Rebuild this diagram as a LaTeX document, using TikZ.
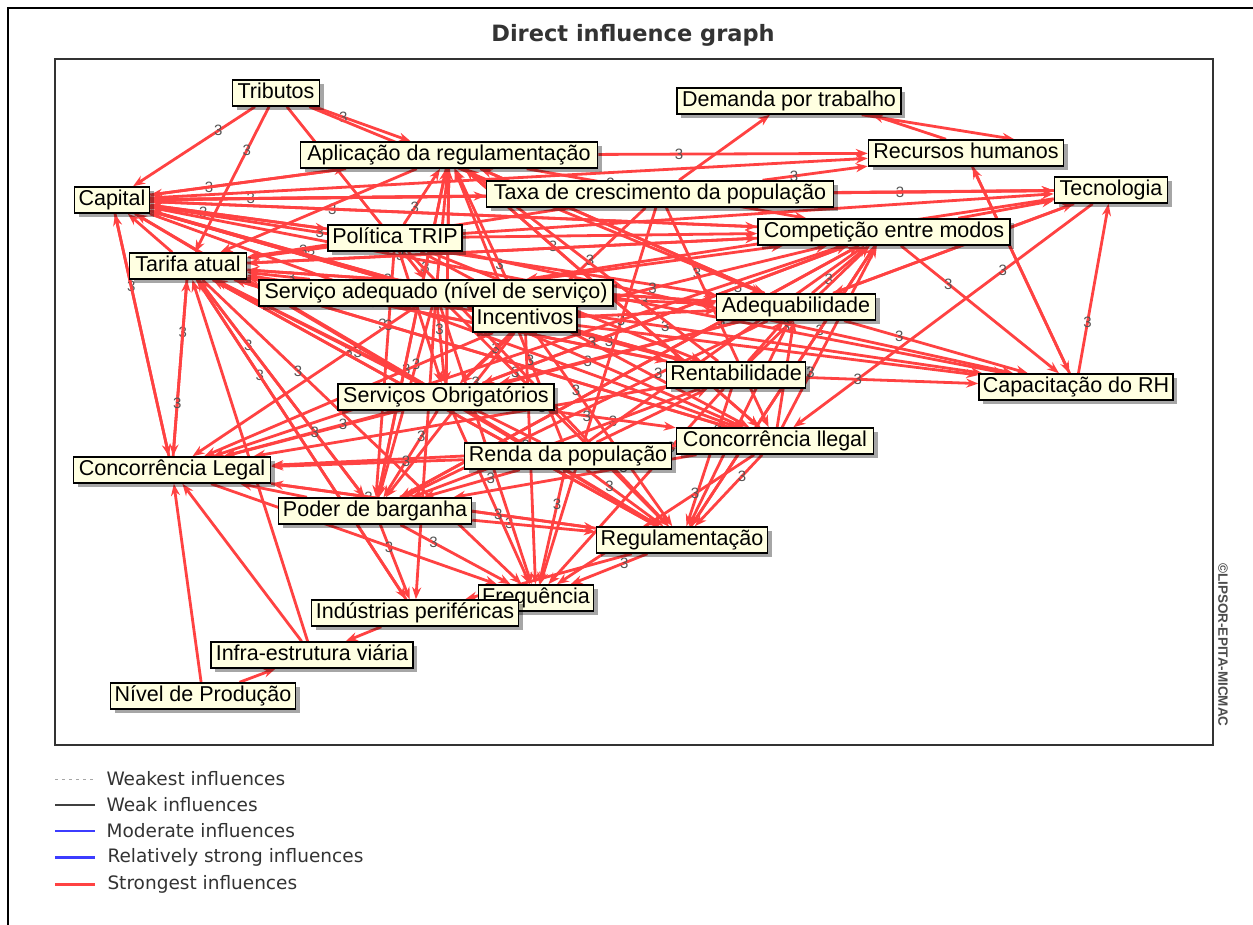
\documentclass[tikz,border=0pt]{standalone}
\usepackage{fontspec}
\setmainfont{Liberation Sans}
\newfontfamily\headfont{DejaVu Sans}
\usetikzlibrary{shadows,arrows.meta}
\pgfdeclarelayer{edges}
\pgfdeclarelayer{paper}
\pgfsetlayers{paper,edges,main}
\definecolor{edgered}{RGB}{255,66,66}
\definecolor{boxfill}{RGB}{255,255,225}
\definecolor{labgray}{RGB}{85,85,85}
\definecolor{inkgray}{RGB}{51,51,51}
\definecolor{legblue}{RGB}{60,60,255}

\begin{document}
\begin{tikzpicture}[x=1pt,y=-1pt,
  var/.style={draw=black, line width=1.5pt, fill=boxfill,
    font=\fontsize{21.5}{22}\selectfont, inner sep=0pt,
    text height=15.5pt, text depth=4.5pt, minimum height=26pt,
    drop shadow={shadow xshift=4pt, shadow yshift=-4pt, fill=black, opacity=0.35}},
  infl/.style={draw=edgered, line width=2.8pt, -{Stealth[length=12pt,width=9pt]}},
  lab/.style={font=\fontsize{15}{15}\selectfont, text=labgray, inner sep=0.5pt},
  legtext/.style={anchor=west, font=\headfont\fontsize{18.5}{19}\selectfont, text=inkgray, inner sep=0pt},
]
\useasboundingbox (0,0) rectangle (1253,924);
\begin{pgfonlayer}{paper}
\fill[white] (0,0) rectangle (1253,924);
\end{pgfonlayer}

% outer frame and plot frame
\draw[line width=2pt] (8,930) -- (8,8) -- (1260,8);
\draw[line width=1.4pt, draw=black!80] (55,59) rectangle (1213,745);

% title
\node[font=\headfont\bfseries\fontsize{22.5}{23}\selectfont, text=inkgray] (title) at (633,35) {Direct influence graph};

% variables
\node[var, minimum width=87pt]  (T)    at (276,93)  {Tributos};
\node[var, minimum width=75pt]  (Cap)  at (112,200) {Capital};
\node[var, minimum width=297pt] (Apl)  at (449,155) {Aplicação da regulamentação};
\node[var, minimum width=224pt] (Dem)  at (789,101) {Demanda por trabalho};
\node[var, minimum width=195pt] (RH)   at (966,153) {Recursos humanos};
\node[var, minimum width=113pt] (Tec)  at (1111,190) {Tecnologia};
\node[var, minimum width=347pt] (Tax)  at (660,194) {Taxa de crescimento da população};
\node[var, minimum width=252pt] (Comp) at (884,232) {Competição entre modos};
\node[var, minimum width=134pt] (Pol)  at (395,238) {Política TRIP};
\node[var, minimum width=117pt] (Tar)  at (188,266) {Tarifa atual};
\node[var, minimum width=354pt] (SA)   at (436,293) {Serviço adequado (nível de serviço)};
\node[var, minimum width=104pt] (Inc)  at (525,319) {Incentivos};
\node[var, minimum width=159pt] (Adeq) at (796,307) {Adequabilidade};
\node[var, minimum width=139pt] (Rent) at (736,375) {Rentabilidade};
\node[var, minimum width=194pt] (CRH)  at (1076,387) {Capacitação do RH};
\node[var, minimum width=216pt] (SO)   at (446,397) {Serviços Obrigatórios};
\node[var, minimum width=197pt] (CI)   at (775,441) {Concorrência llegal};
\node[var, minimum width=207pt] (Ren)  at (568,456) {Renda da população};
\node[var, minimum width=197pt] (CL)   at (172,470) {Concorrência Legal};
\node[var, minimum width=193pt] (PB)   at (375,511) {Poder de barganha};
\node[var, minimum width=171pt] (Reg)  at (682,540) {Regulamentação};
\node[var, minimum width=115pt] (Freq) at (536,598) {Frequência};
\node[var, minimum width=207pt] (IP)   at (415,613) {Indústrias periféricas};
\node[var, minimum width=202pt] (Inf)  at (312,655) {Infra-estrutura viária};
\node[var, minimum width=185pt] (NP)   at (203,696) {Nível de Produção};

% influences
\begin{pgfonlayer}{edges}
% influences carrying a value label
\foreach \a/\b in {
  T/Cap, T/Tar, T/Apl, T/SA,
  Cap/Apl, Cap/Pol, Cap/Adeq, Cap/Rent, Cap/CL, Cap/Tax, Cap/Comp,
  Tar/CL, Tar/Comp, Tar/Adeq, Tar/Rent, Tar/CI, Tar/PB, Tar/Freq, Tar/IP,
  Apl/RH, Apl/SO, Apl/PB, Apl/Comp, Apl/CI,
  Tax/RH, Tax/Tec, Tax/SO, Tax/Freq, Tax/CI,
  RH/CRH, CRH/Tec, Tec/CI, Tec/Adeq,
  Comp/CRH, Comp/PB, Comp/Reg, Comp/SO,
  Pol/Apl, Pol/SO, Pol/PB, Pol/Rent, Pol/CI, Pol/Tar,
  SA/Apl, SA/Tar, SA/SO, SA/PB, SA/Adeq, SA/CRH, SA/CL, SA/IP, SA/Reg,
  Inc/Apl, Inc/SO, Inc/PB, Inc/Comp, Inc/Rent, Inc/Reg, Inc/CL,
  Adeq/Comp, Adeq/CRH, Adeq/PB, Adeq/CL, Adeq/Reg,
  Rent/Comp, Rent/CRH, Rent/PB, Rent/CL, Rent/Reg, Rent/Freq,
  SO/Tar, SO/CL, SO/PB, SO/Comp, SO/Reg, SO/Freq, SO/CI,
  CI/Reg, CI/Freq, CI/CL, CI/PB, CI/Comp,
  Ren/Apl, Ren/Tar, Ren/CL, Ren/Comp, Ren/Reg, Ren/Freq, Ren/PB,
  CL/Tar, CL/Reg, PB/Tar, PB/Reg, PB/Freq, PB/IP, Reg/Freq, Reg/CL}
  \draw[infl] (\a) -- (\b) node[lab, pos=0.3] {3};
% influences drawn without a label
\foreach \a/\b in {
  T/Adeq, Cap/RH, Cap/Tec, Cap/CRH, Cap/CI, Cap/Inc, Cap/Reg,
  Tar/Cap, Tar/Reg, Apl/Tar, Apl/Adeq, Apl/Cap, Tax/Dem, Tax/Tar, Tax/Cap,
  CRH/RH, Tec/Cap, Tec/SA, Comp/Tec, Comp/Cap, Comp/Tar, Comp/CL,
  Pol/Cap, Pol/Comp, Pol/CRH, Pol/Reg, Pol/Tec,
  SA/Cap, SA/Comp, SA/CI, SA/Freq, Inc/Cap, Inc/Tar, Inc/Adeq, Inc/CRH, Inc/Freq,
  Adeq/Apl, Adeq/Tar, Adeq/SO, Adeq/Tec, Rent/Apl, Rent/Tar, Rent/Cap, Rent/Adeq,
  SO/Apl, SO/Cap, CI/Adeq, CI/Tar, CI/Apl, Ren/Rent, Ren/CI,
  CL/Cap, CL/Freq, PB/CL, PB/Apl, PB/Comp, Reg/Comp, Reg/IP, Reg/Tar,
  IP/Tar, IP/Inf, Freq/IP, Inf/Tar, Inf/CL, NP/CL, NP/Inf}
  \draw[infl] (\a) -- (\b);
\draw[infl] ([xshift=-40pt]Dem.south east) -- ([xshift=-50pt]RH.north east);
\draw[infl] ([xshift=-20pt]RH.north) -- ([xshift=-30pt]Dem.south east);
\end{pgfonlayer}

% legend
\coordinate (l1) at (55,779);
\coordinate (l2) at (55,805);
\coordinate (l3) at (55,831);
\coordinate (l4) at (55,857);
\coordinate (l5) at (55,884);
\draw[black!35, line width=1pt, dash pattern=on 3pt off 4pt] (l1) -- ++(40,0)
  node[legtext, at end, xshift=11pt] {Weakest influences};
\draw[black!75, line width=1.2pt] (l2) -- ++(40,0)
  node[legtext, at end, xshift=11pt] {Weak influences};
\draw[legblue, line width=1.2pt] (l3) -- ++(40,0)
  node[legtext, at end, xshift=11pt] {Moderate influences};
\draw[legblue, line width=3pt] (l4) -- ++(40,0)
  node[legtext, at end, xshift=11pt] {Relatively strong influences};
\draw[edgered, line width=3pt] (l5) -- ++(40,0)
  node[legtext, at end, xshift=11pt] {Strongest influences};

% credit
\node[rotate=-90, font=\bfseries\fontsize{13.5}{14}\selectfont, text=black!70] (credit) at (1223,645) {©LIPSOR-EPITA-MICMAC};
\end{tikzpicture}
\end{document}
